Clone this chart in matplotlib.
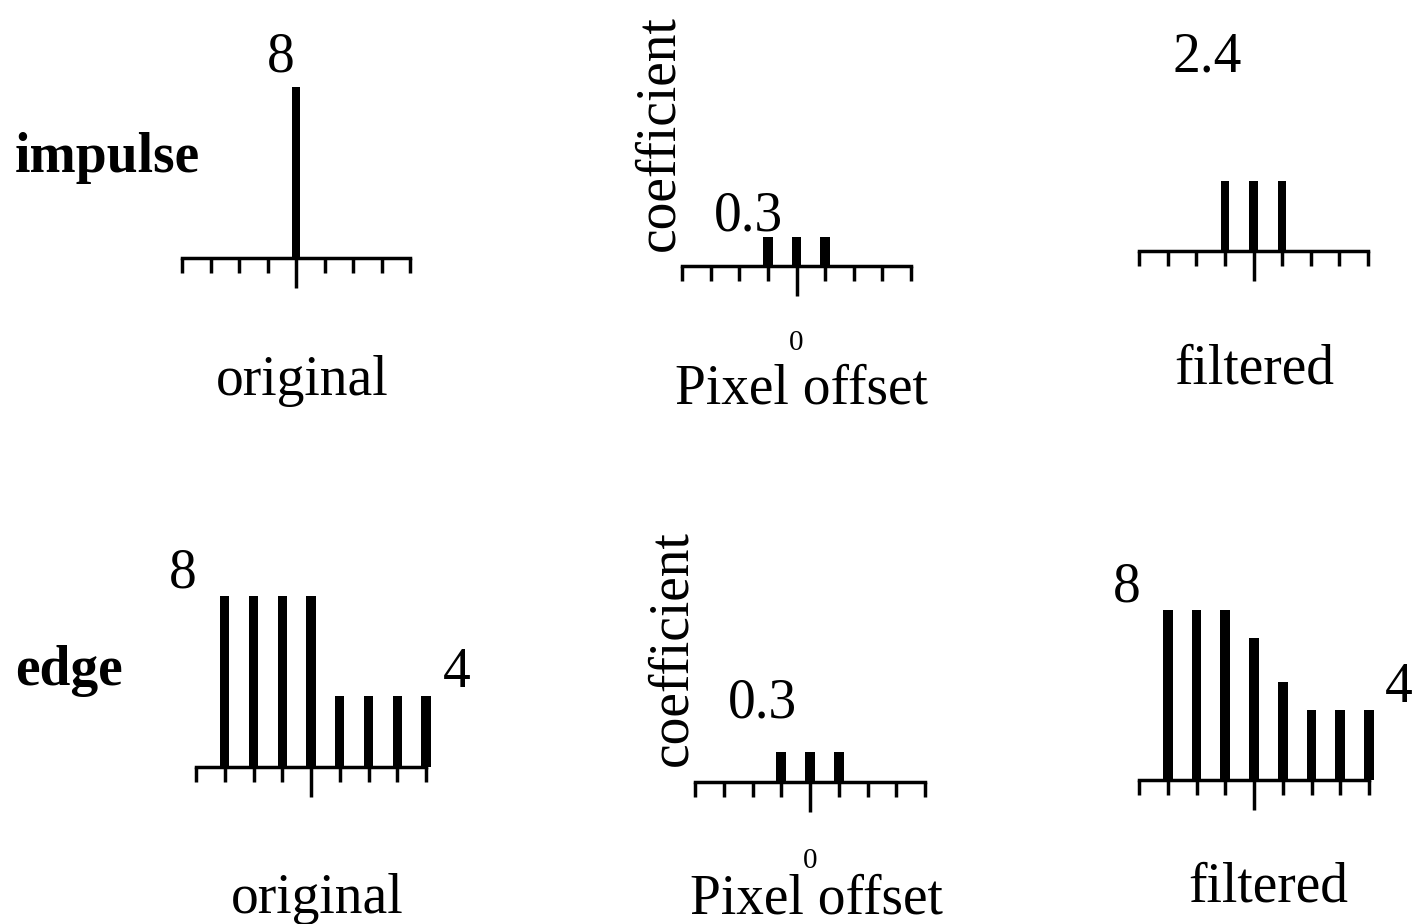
import numpy as np
import matplotlib
matplotlib.use("Agg")
import matplotlib.pyplot as plt

# Данные: смещение пикселя и значения столбиков
offsets = [-4, -3, -2, -1, 0, 1, 2, 3, 4]
impulse_original = [0, 0, 0, 0, 8, 0, 0, 0, 0]
kernel = [0, 0, 0, 0.3, 0.3, 0.3, 0, 0, 0]
impulse_filtered = [0, 0, 0, 2.4, 2.4, 2.4, 0, 0, 0]
edge_original = [0, 8, 8, 8, 8, 3.3, 3.3, 3.3, 3.3]
edge_filtered = [0, 8, 8, 8, 6.7, 4.6, 3.3, 3.3, 3.3]

W, H = 1416, 924
plt.rcParams['font.family'] = ['Liberation Serif', 'DejaVu Serif']

fig = plt.figure(figsize=(W / 100, H / 100), dpi=100)


def fx(x):
    return x / W


def fy(y):
    return 1 - y / H


# Одна панель: left, right, baseline, top (пиксели), ymax, ширина столбика
def panel(values, left, right, base, top, ymax, width):
    ax = fig.add_axes([fx(left), fy(base), (right - left) / W, (base - top) / H])
    ax.bar(offsets, values, width=width, color='black', linewidth=0, clip_on=False)
    ax.set_xlim(-4, 4)
    ax.set_ylim(0, ymax)
    for s in ['top', 'left', 'right']:
        ax.spines[s].set_visible(False)
    ax.spines['bottom'].set_linewidth(2.5)
    ax.spines['bottom'].set_capstyle('projecting')
    ax.set_yticks([])
    ax.set_xticks([o for o in offsets if o != 0])
    ax.set_xticks([0], minor=True)
    ax.tick_params(axis='x', which='major', direction='out', length=10.5,
                   width=2.5, labelbottom=False)
    ax.tick_params(axis='x', which='minor', direction='out', length=21.5,
                   width=2.5, labelbottom=False)
    ax.patch.set_alpha(0)
    return ax


panel(impulse_original, 182, 410, 258, 87, 8, 0.29)
panel(kernel, 682, 911, 266, 237, 0.3, 0.34)
panel(impulse_filtered, 1139, 1368, 251, 181, 2.4, 0.3)
panel(edge_original, 196, 426, 767, 596, 8, 0.32)
panel(edge_filtered, 1139, 1369, 780, 610, 8, 0.34)
panel(kernel, 695, 925, 782, 752, 0.3, 0.34)


def txt(x, y, s, size=40, **kw):
    fig.text(fx(x), fy(y), s, fontsize=size, ha=kw.pop('ha', 'center'),
             va=kw.pop('va', 'baseline'), **kw)


# Верхний ряд
txt(15, 172, 'impulse', ha='left', fontweight='bold')
txt(281, 72, '8')
txt(302, 395, 'original')
txt(748, 230, '0.3')
txt(796, 350, '0', size=21)
txt(801, 403, 'Pixel offset')
txt(673, 133, 'coefficient', rotation=90, rotation_mode='anchor')
txt(1207, 72, '2.4')
txt(1254, 383, 'filtered')

# Нижний ряд
txt(15, 685, 'edge', ha='left', fontweight='bold')
txt(183, 587, '8')
txt(457, 687, '4')
txt(317, 913, 'original')
txt(762, 718, '0.3')
txt(810, 868, '0', size=21)
txt(816, 913, 'Pixel offset')
txt(686, 648, 'coefficient', rotation=90, rotation_mode='anchor')
txt(1127, 602, '8')
txt(1399, 702, '4')
txt(1268, 902, 'filtered')

fig.savefig('out.png', dpi=100)
